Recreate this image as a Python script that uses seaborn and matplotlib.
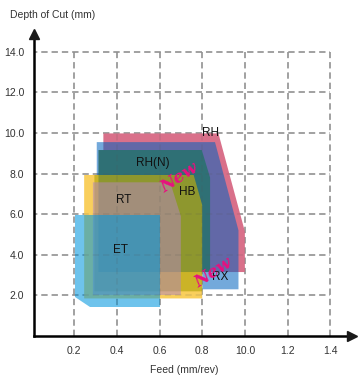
import matplotlib
matplotlib.use("Agg")
import matplotlib.pyplot as plt
import seaborn as sns
import numpy as np

# ---- data: application ranges (feed mm/rev, depth of cut mm) ----
rh_feed = [0.337, 0.337, 0.876, 1.0, 1.0]
rh_depth = [3.15, 9.98, 9.98, 5.15, 3.15]

rx_feed = [0.306, 0.306, 0.86, 0.97, 0.97, 0.80, 0.80]
rx_depth = [3.15, 9.55, 9.55, 5.2, 2.3, 2.3, 3.15]

rt_feed = [0.247, 0.247, 0.76, 0.80, 0.80]
rt_depth = [1.85, 7.93, 7.93, 6.45, 1.85]

rhn_feed = [0.314, 0.314, 0.798, 0.837, 0.837]
rhn_depth = [3.15, 9.16, 9.16, 7.8, 3.15]

hb_feed = [0.295, 0.295, 0.76, 0.80, 0.80]
hb_depth = [2.2, 7.93, 7.93, 6.45, 2.2]

rt_core_feed = [0.288, 0.288, 0.65, 0.70, 0.70]
rt_core_depth = [2.02, 7.57, 7.57, 5.9, 2.02]

et_feed = [0.205, 0.205, 0.603, 0.603, 0.275]
et_depth = [1.94, 5.96, 5.96, 1.44, 1.44]

labels = ["RH", "RH(N)", "HB", "RT", "ET", "RX"]
label_feed = [0.838, 0.568, 0.728, 0.431, 0.415, 0.884]
label_depth = [10.0, 8.5, 7.11, 6.7, 4.24, 2.89]

new_feed = [0.692, 0.853]
new_depth = [7.77, 3.09]

xticks = [0.2, 0.4, 0.6, 0.8, 1.0, 1.2, 1.4]
xtick_labels = ["0.2", "0.4", "0.6", "0.8", "10.0", "1.2", "1.4"]
yticks = [2, 4, 6, 8, 10, 12, 14]
ytick_labels = ["2.0", "4.0", "6.0", "8.0", "10.0", "12.0", "14.0"]

# ---- style ----
sns.set_theme(style="white")
plt.rcParams["font.family"] = ["Liberation Sans", "DejaVu Sans"]

fig = plt.figure(figsize=(3.6, 3.81), dpi=100)
ax = fig.add_axes([34 / 360, 45 / 381, 317.6 / 360, 302.5 / 381])
ax.set_xlim(0.012, 1.5)
ax.set_ylim(0, 14.9)

grid_kw = dict(linestyles=(0, (3.5, 2.2)), linewidth=1.3)
ax.vlines(xticks, 0, 14, colors="#a6a6a6", zorder=0, **grid_kw)
ax.hlines(yticks, 0, 1.4, colors="#a6a6a6", zorder=0, **grid_kw)

layers = [
    (rh_feed, rh_depth, (217 / 255, 112 / 255, 138 / 255), 1.0),
    (rx_feed, rx_depth, (0 / 255, 99 / 255, 191 / 255), 0.55),
    (rt_feed, rt_depth, (249 / 255, 207 / 255, 92 / 255), 1.0),
    (rhn_feed, rhn_depth, (47 / 255, 112 / 255, 117 / 255), 1.0),
    (hb_feed, hb_depth, (184 / 255, 168 / 255, 17 / 255), 0.7),
    (rt_core_feed, rt_core_depth, (179 / 255, 136 / 255, 185 / 255), 0.55),
    (et_feed, et_depth, (0 / 255, 151 / 255, 222 / 255), 0.57),
]
for i, (fx, dy, col, a) in enumerate(layers):
    ax.fill(fx, dy, color=col, alpha=a, linewidth=0, zorder=2 + i)

# faint grid showing through the ranges
ax.vlines(xticks, 0, 14, colors="#555555", alpha=0.13, zorder=20, **grid_kw)
ax.hlines(yticks, 0, 1.4, colors="#555555", alpha=0.13, zorder=20, **grid_kw)

for t, fx, dy in zip(labels, label_feed, label_depth):
    ax.text(fx, dy, t, ha="center", va="center", fontsize=8.5,
            color="#111111", zorder=30)
for fx, dy in zip(new_feed, new_depth):
    ax.text(fx, dy, "New", ha="center", va="center", fontsize=12.5,
            family=["DejaVu Serif"], weight="bold",
            style="italic", color="#e8107f", rotation=33, zorder=31)

ax.set_xticks(xticks)
ax.set_xticklabels(xtick_labels)
ax.set_yticks(yticks)
ax.set_yticklabels(ytick_labels)
ax.tick_params(length=0, labelsize=7.5, colors="#333333", pad=7)

for s in ["top", "right"]:
    ax.spines[s].set_visible(False)
for s in ["left", "bottom"]:
    ax.spines[s].set_color("black")
    ax.spines[s].set_linewidth(1.8)
    ax.spines[s].set_zorder(40)
ax.plot(1, 0, ">k", transform=ax.get_yaxis_transform(), clip_on=False,
        markersize=7, zorder=41)
ax.plot(0.012, 1, "^k", transform=ax.get_xaxis_transform(), clip_on=False,
        markersize=7, zorder=41)

fig.text(10 / 360, 1 - 15 / 381, "Depth of Cut (mm)", fontsize=7.5,
         color="#333333", ha="left", va="center")
fig.text(184 / 360, 1 - 370 / 381, "Feed (mm/rev)", fontsize=7.5,
         color="#333333", ha="center", va="center")

fig.savefig("out.png", dpi=100)
